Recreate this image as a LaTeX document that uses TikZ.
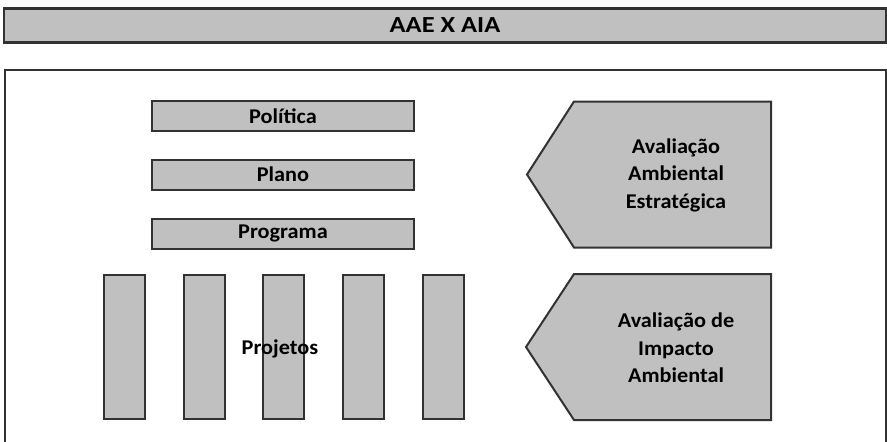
\documentclass[tikz,border=0pt]{standalone}
\usepackage{fontspec}
\setmainfont{Carlito}[FakeStretch=1.06]
\newfontfamily\titlefont{Carlito}[FakeStretch=1.15]
\definecolor{boxfill}{RGB}{192,192,192}
\definecolor{boxline}{RGB}{50,50,50}
\begin{document}
\begin{tikzpicture}[x=1pt,y=-1pt,
  shapeline/.style={draw=boxline,line width=2pt,fill=boxfill},
  barbox/.style={shapeline,minimum width=262pt,minimum height=30pt,inner sep=0pt,
    font=\fontsize{21}{24}\selectfont\bfseries},
  pillar/.style={shapeline,minimum width=41pt,minimum height=144pt,inner sep=0pt},
  labeltext/.style={align=center,inner sep=0pt,font=\fontsize{21}{27.5}\selectfont\bfseries}]
\useasboundingbox (0,0) rectangle (887,442);

% title banner
\node[shapeline,line width=2.3pt,minimum width=882pt,minimum height=34pt,inner sep=0pt,
  font=\titlefont\fontsize{23}{26}\selectfont\bfseries] (title) at (445,25.5) {AAE X AIA};

% outer frame
\draw[draw=boxline,line width=2pt] (5,442) |- (886,70) -- (886,442);

% policy levels
\node[barbox] (politica) at (283,116) {Política};
\node[barbox] (plano) at (283,174.5) {Plano};
\node[barbox] (programa) at (283,233.5) {Programa};

% project pillars
\node[pillar] (p1) at (124.7,347) {};
\node[pillar] (p2) at (204.2,347) {};
\node[pillar] (p3) at (283.2,347) {};
\node[pillar] (p4) at (363.5,347) {};
\node[pillar] (p5) at (443.8,347) {};
\node[labeltext] (projetos) at (280,349) {Projetos};

% pointing panels
\draw[shapeline] (527,174.5) -- (574,101.5) -- (771,101.5) -- (771,247.5) -- (574,247.5) -- cycle;
\node[labeltext] (aae) at (676,175) {Avaliação\\Ambiental\\Estratégica};
\draw[shapeline] (526,347) -- (574,274) -- (771,274) -- (771,420) -- (574,420) -- cycle;
\node[labeltext] (aia) at (676,348) {Avaliação de\\Impacto\\Ambiental};
\end{tikzpicture}
\end{document}
